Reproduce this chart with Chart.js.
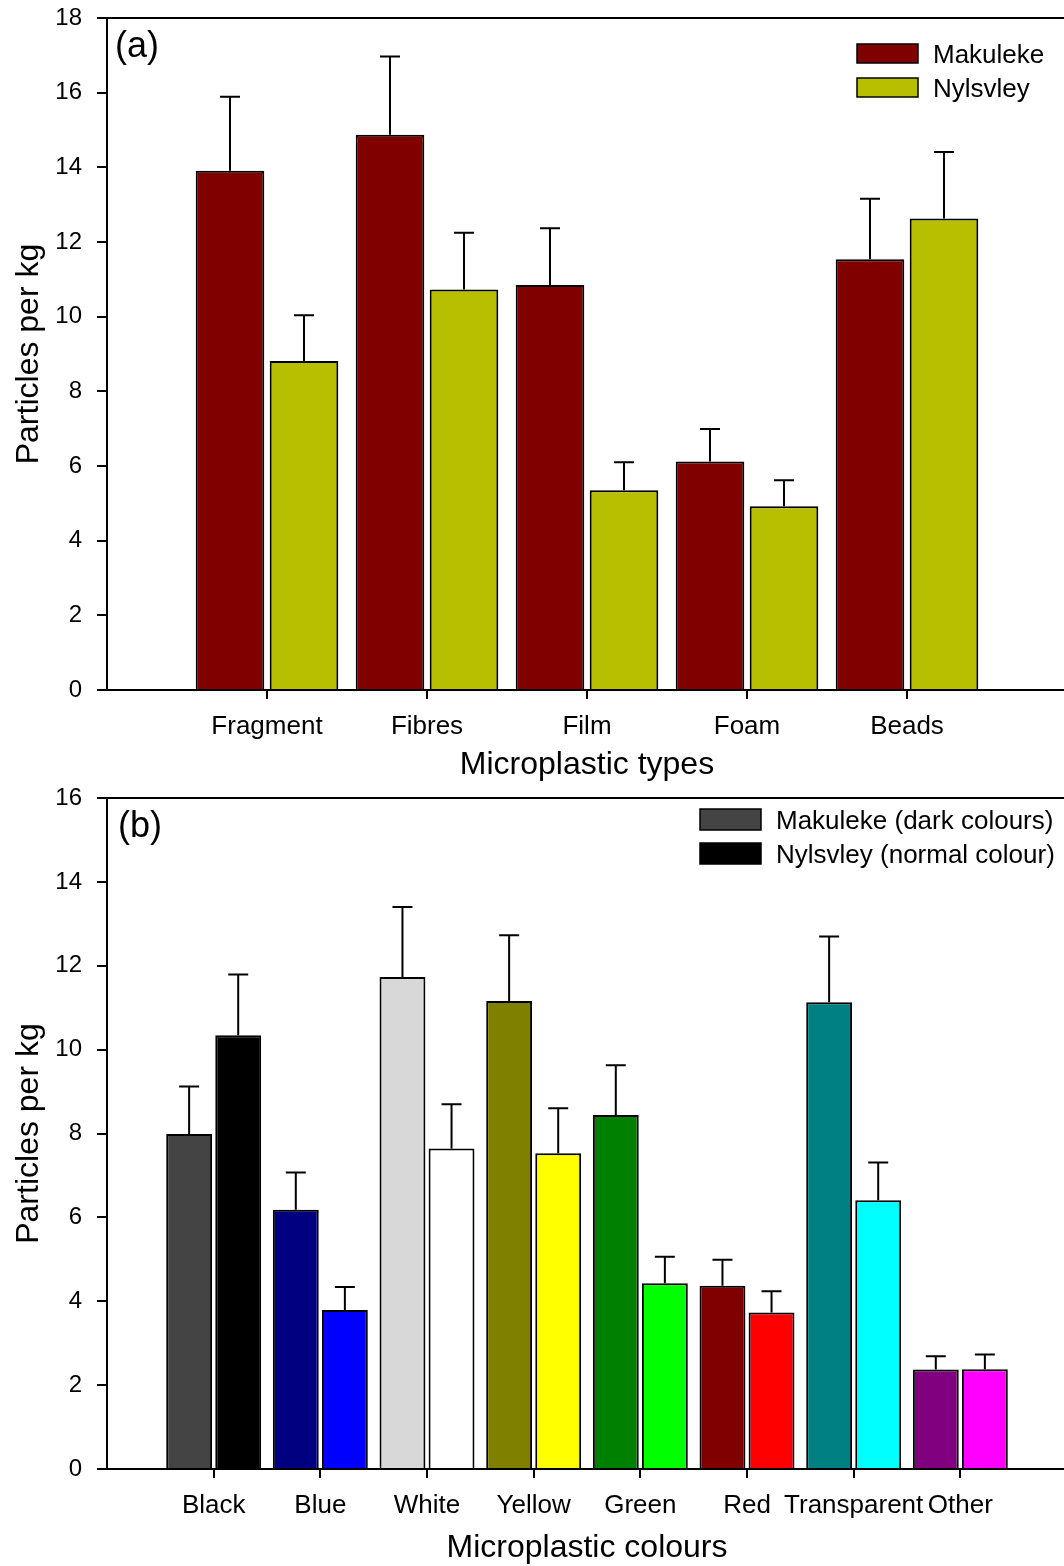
<!DOCTYPE html>
<html>
<head>
<meta charset="utf-8">
<script src="https://cdn.jsdelivr.net/npm/chart.js@4.4.1/dist/chart.umd.min.js"></script>
<style>
  html, body { margin: 0; padding: 0; background: #fff; overflow: hidden; }
  #wrap { position: relative; width: 1064px; height: 1566px; overflow: hidden; background: #fff; }
  canvas { position: absolute; left: 0; }
  #c1 { top: 0; }
  #c2 { top: 780px; }
</style>
</head>
<body>
<div id="wrap">
  <canvas id="c1" width="1080" height="800"></canvas>
  <canvas id="c2" width="1080" height="786"></canvas>
</div>
<script>
// ---------- Data: panel (a) ----------
const typeCategories = ['Fragment', 'Fibres', 'Film', 'Foam', 'Beads'];
const typeMakuleke = [13.91, 14.87, 10.85, 6.12, 11.54];
const typeMakulekeErr = [1.98, 2.10, 1.52, 0.87, 1.62];
const typeNylsvley = [8.81, 10.73, 5.35, 4.92, 12.63];
const typeNylsvleyErr = [1.23, 1.52, 0.75, 0.70, 1.78];
const typeTicksMax = 18;

// ---------- Data: panel (b) ----------
const colourCategories = ['Black', 'Blue', 'White', 'Yellow', 'Green', 'Red', 'Transparent', 'Other'];
const colourMakuleke = [7.99, 6.18, 11.73, 11.16, 8.44, 4.37, 11.13, 2.37];
const colourMakulekeErr = [1.13, 0.89, 1.67, 1.57, 1.19, 0.62, 1.57, 0.32];
const colourNylsvley = [10.34, 3.79, 7.64, 7.53, 4.43, 3.73, 6.41, 2.38];
const colourNylsvleyErr = [1.45, 0.55, 1.06, 1.07, 0.63, 0.51, 0.90, 0.35];
const colourTicksMax = 16;

// ---------- Styles ----------
const makulekeColoursB = ['#444444', '#000080', '#D8D8D8', '#808000', '#008000', '#800000', '#008080', '#800080'];
const nylsvleyColoursB = ['#000000', '#0000FF', '#FFFFFF', '#FFFF00', '#00FF00', '#FF0000', '#00FFFF', '#FF00FF'];
const FONT = "'Liberation Sans', Arial, Helvetica, sans-serif";

Chart.defaults.font.family = FONT;
Chart.defaults.color = '#000';

const pad = arr => [null, ...arr, null];
const padLabels = arr => ['', ...arr, ''];

// error bars (upward only)
const errorBarPlugin = {
  id: 'errorBars',
  afterDatasetsDraw(chart) {
    const { ctx } = chart;
    const yScale = chart.scales.y;
    ctx.save();
    ctx.strokeStyle = '#000';
    ctx.lineWidth = 2;
    chart.data.datasets.forEach((ds, di) => {
      const meta = chart.getDatasetMeta(di);
      meta.data.forEach((bar, i) => {
        const v = ds.data[i];
        const e = ds.errors ? ds.errors[i] : null;
        if (v == null || e == null) return;
        const yTop = yScale.getPixelForValue(v);
        const yCap = yScale.getPixelForValue(v + e);
        ctx.beginPath();
        ctx.moveTo(bar.x, yTop);
        ctx.lineTo(bar.x, yCap);
        ctx.moveTo(bar.x - 10, yCap);
        ctx.lineTo(bar.x + 10, yCap);
        ctx.stroke();
      });
    });
    ctx.restore();
  }
};

// frame top line, panel letter, legend
const decorPlugin = {
  id: 'decor',
  afterDraw(chart, args, opts) {
    const { ctx, chartArea } = chart;
    ctx.save();
    ctx.strokeStyle = '#000';
    ctx.lineWidth = 2;
    ctx.beginPath();
    ctx.moveTo(chartArea.left, chartArea.top);
    ctx.lineTo(chartArea.right, chartArea.top);
    ctx.stroke();
    ctx.fillStyle = '#000';
    ctx.font = '36px ' + FONT;
    ctx.textAlign = 'left';
    ctx.textBaseline = 'alphabetic';
    ctx.fillText(opts.letter, chartArea.left + opts.letterDx, chartArea.top + 39);
    ctx.font = '26px ' + FONT;
    chart.data.datasets.forEach((ds, i) => {
      const x = chartArea.right - opts.legRight;
      const y = chartArea.top + opts.legTop + i * 34;
      const col = Array.isArray(ds.backgroundColor) ? ds.backgroundColor[1] : ds.backgroundColor;
      ctx.fillStyle = col;
      ctx.fillRect(x, y, 61, opts.boxH);
      ctx.strokeStyle = '#000';
      ctx.lineWidth = 1.5;
      ctx.strokeRect(x, y, 61, opts.boxH);
      ctx.fillStyle = '#000';
      ctx.fillText(ds.label, x + 61 + 15, y + opts.boxH / 2 + 9.3);
    });
    ctx.restore();
  }
};

function makeOptions(cfg) {
  return {
    responsive: false,
    animation: false,
    devicePixelRatio: 1,
    layout: { padding: { top: 18, right: 13, left: 0, bottom: 0 } },
    plugins: {
      legend: { display: false },
      tooltip: { enabled: false },
      decor: cfg.decor
    },
    datasets: {
      bar: {
        categoryPercentage: cfg.catPct,
        barPercentage: cfg.barPct,
        borderColor: '#000',
        borderWidth: 2,
        borderSkipped: 'start'
      }
    },
    scales: {
      x: {
        type: 'category',
        offset: false,
        ticks: { autoSkip: false, maxRotation: 0, minRotation: 0, color: '#000', font: { size: 26 }, padding: 12 },
        grid: {
          offset: false,
          drawOnChartArea: false,
          drawTicks: true,
          tickLength: 9,
          lineWidth: 2,
          color: ctx => (ctx.index === 0 || ctx.index === cfg.nLabels - 1) ? 'rgba(0,0,0,0)' : '#000'
        },
        border: { display: true, color: '#000', width: 2 },
        title: { display: true, text: cfg.xTitle, color: '#000', font: { size: 32 }, padding: { top: 0, bottom: cfg.xTitlePad } },
        afterFit: s => { s.height = cfg.xHeight; s.paddingLeft = 0; s.paddingRight = 0; }
      },
      y: {
        min: 0,
        max: cfg.yMax,
        ticks: { stepSize: 2, color: '#000', font: { size: 24 }, padding: 15 },
        grid: { drawOnChartArea: false, drawTicks: true, tickLength: 10, lineWidth: 2, color: '#000' },
        border: { display: true, color: '#000', width: 2 },
        title: { display: true, text: 'Particles per kg', color: '#000', font: { size: 32 }, padding: { top: 10, bottom: 0 } },
        afterFit: s => { s.width = 107; s.paddingTop = 0; s.paddingBottom = 0; }
      }
    }
  };
}

// Panel (a)
new Chart(document.getElementById('c1'), {
  type: 'bar',
  data: {
    labels: padLabels(typeCategories),
    datasets: [
      { label: 'Makuleke', data: pad(typeMakuleke), errors: pad(typeMakulekeErr), backgroundColor: '#800000' },
      { label: 'Nylsvley', data: pad(typeNylsvley), errors: pad(typeNylsvleyErr), backgroundColor: '#B8BE00' }
    ]
  },
  options: makeOptions({
    catPct: 0.925, barPct: 0.927, yMax: typeTicksMax, nLabels: typeCategories.length + 2,
    xTitle: 'Microplastic types', xHeight: 110, xTitlePad: 16,
    decor: { letter: '(a)', letterDx: 8, legRight: 210, legTop: 26, boxH: 19 }
  }),
  plugins: [errorBarPlugin, decorPlugin]
});

// Panel (b)
new Chart(document.getElementById('c2'), {
  type: 'bar',
  data: {
    labels: padLabels(colourCategories),
    datasets: [
      { label: 'Makuleke (dark colours)', data: pad(colourMakuleke), errors: pad(colourMakulekeErr), backgroundColor: ['#fff', ...makulekeColoursB, '#fff'] },
      { label: 'Nylsvley (normal colour)', data: pad(colourNylsvley), errors: pad(colourNylsvleyErr), backgroundColor: ['#fff', ...nylsvleyColoursB, '#fff'] }
    ]
  },
  options: makeOptions({
    catPct: 0.92, barPct: 0.935, yMax: colourTicksMax, nLabels: colourCategories.length + 2,
    xTitle: 'Microplastic colours', xHeight: 97, xTitlePad: -1,
    decor: { letter: '(b)', letterDx: 11, legRight: 367, legTop: 11, boxH: 21 }
  }),
  plugins: [errorBarPlugin, decorPlugin]
});
</script>
</body>
</html>
